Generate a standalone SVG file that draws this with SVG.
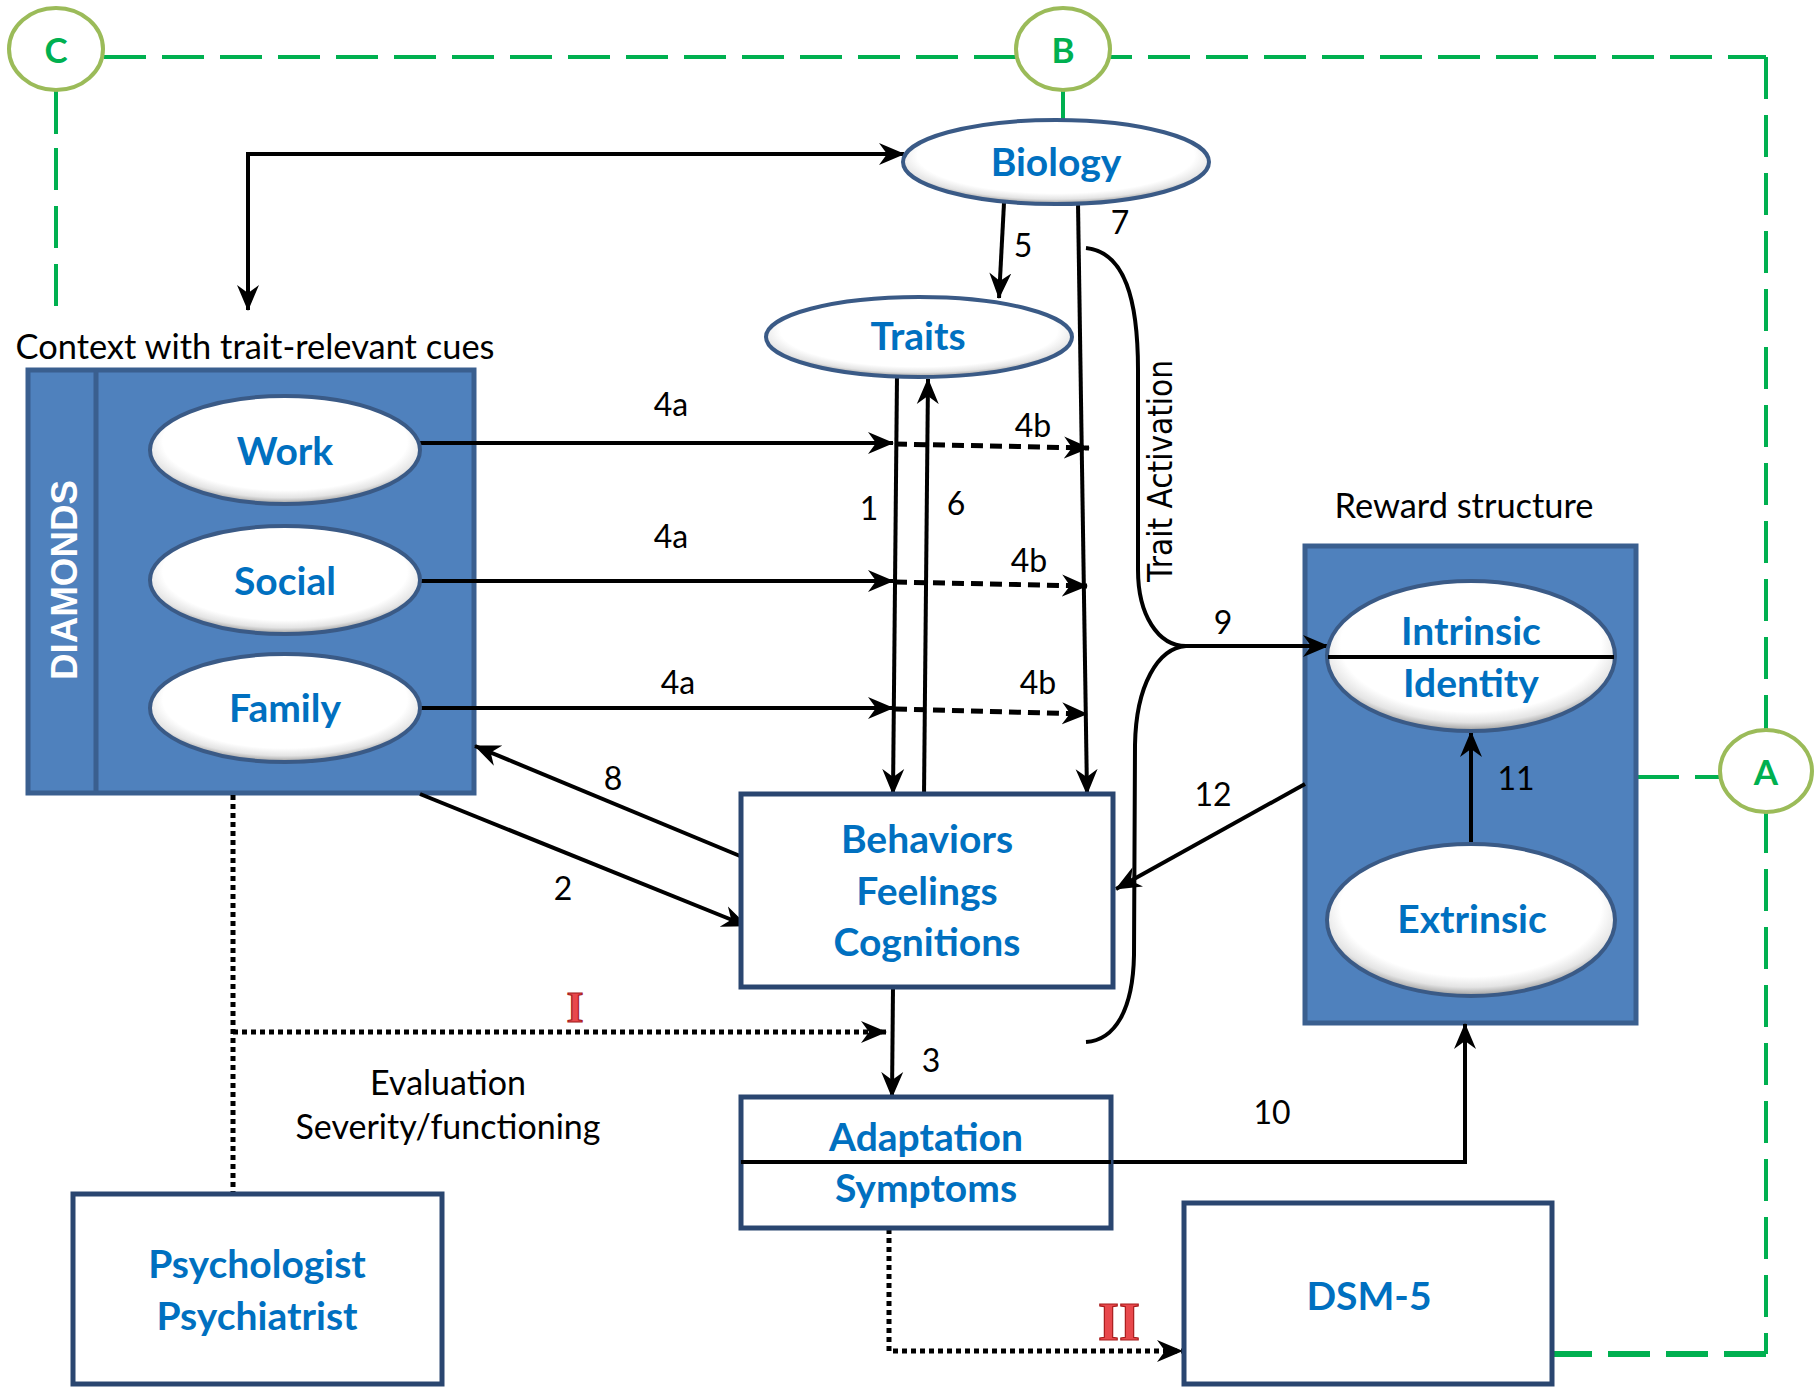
<svg xmlns="http://www.w3.org/2000/svg" width="1814" height="1388" viewBox="0 0 1814 1388">
<defs>
  <radialGradient id="eg" cx="50%" cy="42%" r="58%">
    <stop offset="0" stop-color="#ffffff"/>
    <stop offset="0.78" stop-color="#ffffff"/>
    <stop offset="0.9" stop-color="#e4e4e4"/>
    <stop offset="1" stop-color="#9a9a9a"/>
  </radialGradient>
  <marker id="ah" viewBox="0 0 26 24" markerWidth="26" markerHeight="24" refX="25" refY="12" orient="auto" markerUnits="userSpaceOnUse">
    <path d="M0,1 L26,12 L0,23 L8,12 Z" fill="#000"/>
  </marker>
  <style>
    .blue { fill:#0070C0; font-family:Lato,"Liberation Sans",sans-serif; font-weight:bold; font-size:39px; text-anchor:middle; }
    .lbl { fill:#000; font-family:Lato,"Liberation Sans",sans-serif; font-size:32px; text-anchor:middle; }
    .cap { fill:#000; font-family:Lato,"Liberation Sans",sans-serif; font-size:34px; text-anchor:middle; }
    .green { fill:#00B050; font-family:Lato,"Liberation Sans",sans-serif; font-weight:bold; font-size:35px; text-anchor:middle; }
    .roman { fill:#E8484C; stroke:#A81C1C; stroke-width:1.2; font-family:"Liberation Serif",serif; font-weight:bold; text-anchor:middle; }
    .ell { fill:url(#eg); stroke:#3A5A86; stroke-width:4; }
    .box { fill:#fff; stroke:#2A4670; stroke-width:5; }
    .cont { fill:#4F81BD; stroke:#3A5F8F; stroke-width:5; }
    .gc { fill:#fff; stroke:#9BBB59; stroke-width:4; }
    .gd { fill:none; stroke:#00B050; stroke-width:4; stroke-dasharray:42 16; }
    .gs { fill:none; stroke:#00B050; stroke-width:4; }
    .ar { fill:none; stroke:#000; stroke-width:4; marker-end:url(#ah); }
    .ln { fill:none; stroke:#000; stroke-width:4; }
    .da { fill:none; stroke:#000; stroke-width:5; stroke-dasharray:12 7; marker-end:url(#ah); }
    .dt { fill:none; stroke:#000; stroke-width:5; stroke-dasharray:5 4; }
  </style>
</defs>

<!-- green frame connectors -->
<g id="frame">
  <line class="gd" x1="104" y1="57" x2="1766" y2="57"/>
  <line class="gd" x1="1766" y1="57" x2="1766" y2="1354"/>
  <line class="gd" x1="1766" y1="1354" x2="1553" y2="1354" style="stroke-width:6"/>
  <line class="gs" x1="56" y1="90" x2="56" y2="134"/>
  <line class="gd" x1="56" y1="148" x2="56" y2="308"/>
  <line class="gs" x1="1063" y1="90" x2="1063" y2="122"/>
  <line class="gd" x1="1637" y1="777" x2="1720" y2="777" stroke-dasharray="28 12"/>
</g>

<!-- containers -->
<g id="context">
  <text class="cap" x="255" y="359" textLength="479" lengthAdjust="spacingAndGlyphs">Context with trait-relevant cues</text>
  <rect class="cont" x="28" y="370" width="446" height="423"/>
  <line x1="96" y1="370" x2="96" y2="793" stroke="#3A5F8F" stroke-width="5"/>
  <text x="0" y="0" transform="translate(77,580) rotate(-90)" fill="#fff" font-family="'Liberation Sans',Arial,sans-serif" font-weight="bold" font-size="37" text-anchor="middle" textLength="200" lengthAdjust="spacingAndGlyphs">DIAMONDS</text>
</g>
<g id="reward">
  <text class="cap" x="1464" y="518" textLength="259" lengthAdjust="spacingAndGlyphs">Reward structure</text>
  <rect class="cont" x="1305" y="546" width="331" height="477"/>
</g>

<!-- connectors -->
<g id="connectors">
  <polyline class="ar" points="248,154 904,154"/>
  <polyline class="ar" points="270,154 248,154 248,310"/>
  <line class="ar" x1="1004" y1="203" x2="999" y2="298"/>
  <line class="ar" x1="1078" y1="203" x2="1087" y2="794"/>
  <path class="ln" d="M1086,248 C1125,252 1138,300 1138,370 L1138,570 C1138,615 1158,646 1186,646"/>
  <line class="ar" x1="1184" y1="646" x2="1328" y2="646"/>
  <path class="ln" d="M1186,646 C1158,648 1136,685 1135,745 L1134,955 C1133,1010 1115,1040 1086,1042"/>
  <line class="ar" x1="897" y1="376" x2="893" y2="794"/>
  <line class="ar" x1="924" y1="796" x2="928" y2="379"/>
  <line class="ar" x1="419" y1="443" x2="893" y2="443"/>
  <line class="ar" x1="419" y1="581" x2="893" y2="581"/>
  <line class="ar" x1="419" y1="708" x2="893" y2="708"/>
  <line class="da" x1="895" y1="444" x2="1089" y2="448"/>
  <line class="da" x1="895" y1="582" x2="1087" y2="586"/>
  <line class="da" x1="895" y1="709" x2="1087" y2="714"/>
  <line class="ar" x1="740" y1="856" x2="475" y2="746"/>
  <line class="ar" x1="420" y1="794" x2="747" y2="926"/>
  <line class="ar" x1="1305" y1="784" x2="1116" y2="889"/>
  <line class="ar" x1="1471" y1="844" x2="1471" y2="732"/>
  <line class="ar" x1="893" y1="987" x2="892" y2="1097"/>
  <polyline class="ar" points="1111,1162 1465,1162 1465,1024"/>
  <line class="dt" x1="233" y1="795" x2="233" y2="1193"/>
  <line class="dt" x1="233" y1="1032" x2="886" y2="1032" style="marker-end:url(#ah)"/>
  <polyline class="dt" points="889,1229 889,1351 1182,1351" style="marker-end:url(#ah)"/>
</g>

<!-- connector labels -->
<g id="labels">
  <text class="lbl" x="1023" y="257">5</text>
  <text class="lbl" x="1120" y="234">7</text>
  <text class="lbl" x="671" y="416">4a</text>
  <text class="lbl" x="671" y="548">4a</text>
  <text class="lbl" x="678" y="694">4a</text>
  <text class="lbl" x="1033" y="437">4b</text>
  <text class="lbl" x="1029" y="572">4b</text>
  <text class="lbl" x="1038" y="694">4b</text>
  <text class="lbl" x="869" y="520">1</text>
  <text class="lbl" x="956" y="515">6</text>
  <text class="lbl" x="1223" y="634">9</text>
  <text class="lbl" x="613" y="790">8</text>
  <text class="lbl" x="563" y="900">2</text>
  <text class="lbl" x="1213" y="806">12</text>
  <text class="lbl" x="1516" y="790">11</text>
  <text class="lbl" x="931" y="1072">3</text>
  <text class="lbl" x="1272" y="1124">10</text>
  <text x="0" y="0" transform="translate(1172,471) rotate(-90)" fill="#000" font-family="'DejaVu Sans',sans-serif" font-size="34" text-anchor="middle" textLength="222" lengthAdjust="spacingAndGlyphs">Trait Activation</text>
  <text class="cap" x="448" y="1095">Evaluation</text>
  <text class="cap" x="448" y="1139">Severity/functioning</text>
  <text class="roman" x="575" y="1022" font-size="44">I</text>
  <text class="roman" x="1119" y="1340" font-size="54">II</text>
</g>

<!-- nodes -->
<g id="node-C"><ellipse class="gc" cx="56" cy="49" rx="47" ry="41"/><text class="green" x="56" y="63">C</text></g>
<g id="node-B"><ellipse class="gc" cx="1063" cy="49" rx="47" ry="41"/><text class="green" x="1063" y="63">B</text></g>
<g id="node-A"><ellipse class="gc" cx="1766" cy="771" rx="46" ry="41"/><text class="green" x="1766" y="785">A</text></g>

<g id="node-biology"><ellipse class="ell" cx="1056" cy="162" rx="153" ry="42"/><text class="blue" x="1056" y="176">Biology</text></g>
<g id="node-traits"><ellipse class="ell" cx="919" cy="337" rx="153" ry="40"/><text class="blue" x="918" y="350">Traits</text></g>
<g id="node-work"><ellipse class="ell" cx="285" cy="450" rx="135" ry="54"/><text class="blue" x="285" y="465">Work</text></g>
<g id="node-social"><ellipse class="ell" cx="285" cy="580" rx="135" ry="54"/><text class="blue" x="285" y="595">Social</text></g>
<g id="node-family"><ellipse class="ell" cx="285" cy="708" rx="135" ry="54"/><text class="blue" x="285" y="722">Family</text></g>

<g id="node-intrinsic">
  <ellipse class="ell" cx="1471" cy="656" rx="144" ry="75"/>
  <line x1="1328" y1="657" x2="1614" y2="657" stroke="#000" stroke-width="4"/>
  <text class="blue" x="1471" y="645">Intrinsic</text>
  <text class="blue" x="1471" y="697">Identity</text>
</g>
<g id="node-extrinsic"><ellipse class="ell" cx="1471" cy="920" rx="144" ry="76"/><text class="blue" x="1472" y="933">Extrinsic</text></g>

<g id="node-behaviors">
  <rect class="box" x="741" y="794" width="372" height="193"/>
  <text class="blue" x="927" y="853">Behaviors</text>
  <text class="blue" x="927" y="905">Feelings</text>
  <text class="blue" x="927" y="956">Cognitions</text>
</g>
<g id="node-adaptation">
  <rect class="box" x="741" y="1097" width="370" height="131"/>
  <line x1="741" y1="1162" x2="1111" y2="1162" stroke="#000" stroke-width="4"/>
  <text class="blue" x="926" y="1151">Adaptation</text>
  <text class="blue" x="926" y="1202">Symptoms</text>
</g>
<g id="node-psych">
  <rect class="box" x="73" y="1194" width="369" height="190"/>
  <text class="blue" x="257" y="1278">Psychologist</text>
  <text class="blue" x="257" y="1330">Psychiatrist</text>
</g>
<g id="node-dsm">
  <rect class="box" x="1184" y="1203" width="368" height="181"/>
  <text class="blue" x="1369" y="1310">DSM-5</text>
</g>
</svg>
